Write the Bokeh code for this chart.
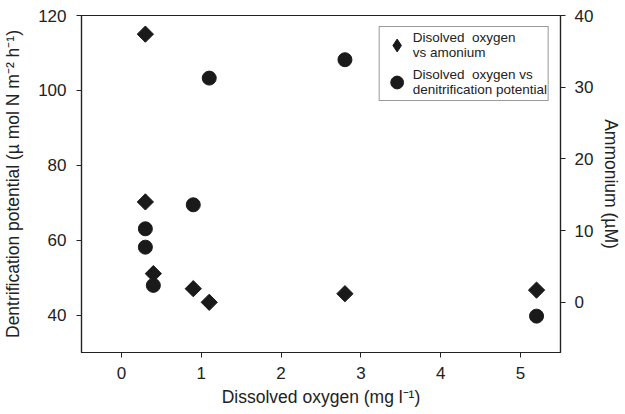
import math
from bokeh.plotting import figure
from bokeh.models import Range1d, LinearAxis, FixedTicker, Legend, LegendItem
from bokeh.embed import file_html
from bokeh.resources import INLINE

# Data
do_amm = [0.3, 0.3, 0.4, 0.9, 1.1, 2.8, 5.2]
ammonium = [37.4, 14.0, 4.0, 1.9, 0.0, 1.2, 1.7]
do_den = [0.3, 0.3, 0.4, 0.9, 1.1, 2.8, 5.2]
denitrification = [63.1, 58.2, 48.0, 69.5, 103.3, 108.2, 39.8]

x_ticks = [0, 1, 2, 3, 4, 5]
left_ticks = [40, 60, 80, 100, 120]
right_ticks = [0, 10, 20, 30, 40]

label_amm = "Disolved  oxygen\nvs amonium"
label_den = "Disolved  oxygen vs\ndenitrification potential"

FONT = "Liberation Sans"
TXT = "#222222"
MARK = "#1a1a1a"

p = figure(width=624, height=412, output_backend="svg", toolbar_location=None,
           x_range=Range1d(-0.5, 5.5), y_range=Range1d(30.1, 120),
           min_border_left=81, min_border_right=61, min_border_top=15, min_border_bottom=60)
p.extra_y_ranges = {"amm": Range1d(-7.0, 40)}
p.grid.visible = False
p.outline_line_color = "#222222"
p.outline_line_width = 1.2
p.background_fill_color = "white"
p.border_fill_color = "white"

def style(ax):
    ax.axis_line_color = "#222222"
    ax.axis_line_width = 1.2
    ax.major_tick_line_color = "#222222"
    ax.major_tick_in = 0
    ax.major_tick_out = 5
    ax.minor_tick_line_color = None
    ax.major_label_text_font = FONT
    ax.major_label_text_font_size = "17px"
    ax.major_label_text_color = TXT
    ax.axis_label_text_font = FONT
    ax.axis_label_text_font_size = "17.5px"
    ax.axis_label_text_font_style = "normal"
    ax.axis_label_text_color = TXT

p.xaxis.ticker = FixedTicker(ticks=x_ticks)
p.xaxis.axis_label = "Dissolved oxygen (mg l\u207b\u00b9)"
p.yaxis.ticker = FixedTicker(ticks=left_ticks)
p.yaxis.axis_label = "Dentrification potential (\u00b5 mol N m\u207b\u00b2 h\u207b\u00b9)"
style(p.xaxis[0])
style(p.yaxis[0])
p.xaxis.major_label_standoff = 9
p.xaxis.axis_label_standoff = 5
p.yaxis.major_label_standoff = 10
p.yaxis.axis_label_standoff = 12

ax_r = LinearAxis(y_range_name="amm", ticker=FixedTicker(ticks=right_ticks),
                  axis_label="Ammonium (\u00b5M)")
style(ax_r)
ax_r.major_label_standoff = 9
ax_r.axis_label_standoff = 5
p.add_layout(ax_r, "right")

r1 = p.scatter(do_amm, ammonium, y_range_name="amm", marker="square", size=11.5,
               angle=math.pi / 4, fill_color=MARK, line_color=MARK)
r2 = p.scatter(do_den, denitrification, marker="circle", size=14,
               fill_color=MARK, line_color=MARK)

# legend-only symbols: zero size in the plot, sized by the legend box
l1 = p.scatter(do_amm, ammonium, y_range_name="amm", marker="diamond", size=0,
               fill_color=MARK, line_color=MARK)
l2 = p.scatter(do_den, denitrification, marker="circle", size=0,
               fill_color=MARK, line_color=MARK)

legend = Legend(items=[
    LegendItem(label=label_amm, renderers=[l1]),
    LegendItem(label=label_den, renderers=[l2]),
], location="top_right")
legend.label_text_font = FONT
legend.label_text_font_size = "13.5px"
legend.label_text_color = TXT
legend.label_text_line_height = 1.12
legend.border_line_color = "#333333"
legend.border_line_width = 1
legend.margin = 11
legend.padding = 1
legend.spacing = 3
legend.glyph_width = 32
legend.glyph_height = 34
legend.label_standoff = -6
p.add_layout(legend)

open("out.html", "w").write(file_html(p, INLINE))
